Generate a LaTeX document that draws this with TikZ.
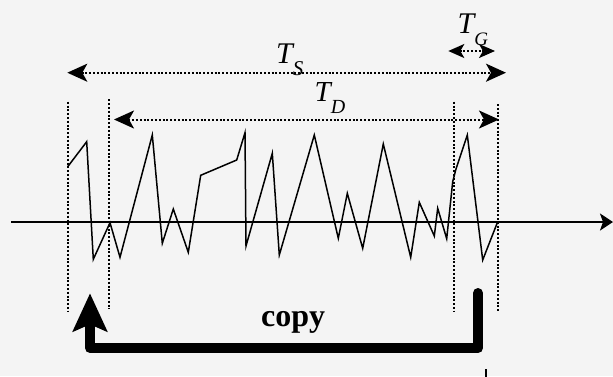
\documentclass[tikz,border=0pt]{standalone}
\usepackage{fontspec}
\setmainfont{Liberation Serif}
\usetikzlibrary{arrows.meta}
\definecolor{bg}{HTML}{F4F4F4}
\tikzset{
  dimtip/.tip={Stealth[length=20pt,width=18pt,inset=5pt]},
  smalltip/.tip={Stealth[length=16pt,width=14pt,inset=4pt]},
  wave/.style={line width=1.5pt, line join=miter},
  axisline/.style={line width=1.8pt, -{Stealth[length=13pt,width=17pt,inset=3pt]}},
  guide/.style={line width=2pt, dash pattern=on 2pt off 1.8pt},
  dimarrow/.style={guide, dimtip-dimtip},
  gaparrow/.style={guide, smalltip-smalltip},
  copyarrow/.style={line width=10pt, line join=round, line cap=round,
    -{Stealth[length=38pt,width=34pt,inset=7pt]}},
  lbl/.style={inner sep=0pt, anchor=base west},
}
\begin{document}
\begin{tikzpicture}[x=1pt,y=-1pt]
\useasboundingbox (0,0) rectangle (613,376);
\fill[bg] (0,0) rectangle (613,376);

% key coordinates
\coordinate (ax0) at (11,222);
\coordinate (ax1) at (613,222);
\coordinate (g1t) at (67.5,101.7); \coordinate (g1b) at (67.5,311.7);
\coordinate (g2t) at (109,99.3);   \coordinate (g2b) at (109,309);
\coordinate (g3t) at (454,101.7);  \coordinate (g3b) at (454,311.7);
\coordinate (g4t) at (498,104);    \coordinate (g4b) at (498,312.7);
\coordinate (tsL) at (67.3,72.7);  \coordinate (tsR) at (506,72.7);
\coordinate (tdL) at (114,119.5);  \coordinate (tdR) at (499,119.5);
\coordinate (tgL) at (448.3,51);   \coordinate (tgR) at (495,51);
\coordinate (cpA) at (478,293);    \coordinate (cpB) at (478,348);
\coordinate (cpC) at (90,348);     \coordinate (cpD) at (90,293.3);
\coordinate (tk0) at (486,369);    \coordinate (tk1) at (486,377);

% time axis
\draw[axisline] (ax0) -- (ax1);

% guide lines
\draw[guide] (g1t) -- (g1b);
\draw[guide] (g2t) -- (g2b);
\draw[guide] (g3t) -- (g3b);
\draw[guide] (g4t) -- (g4b);

% waveform
\draw[wave] (67.7,166.7) -- (86.7,141.7) -- (93.3,259.3) -- (110,222.7)
  -- (120,257.3) -- (152.3,135) -- (162.3,243.3) -- (173.3,209)
  -- (188.3,252.3) -- (200.7,175.3) -- (236.7,160) -- (245,132.7)
  -- (246,246) -- (272.3,153.3) -- (279.3,255) -- (314.3,135)
  -- (338.3,238.3) -- (347.3,193.3) -- (362.7,248.3) -- (383.3,144)
  -- (410.7,257.3) -- (419.3,202.3) -- (434.3,236) -- (437.7,208.3)
  -- (446.7,238.7) -- (452.7,181.7) -- (455.7,170) -- (467.3,135)
  -- (482.7,260) -- (497.7,221.7);

% dimension arrows
\draw[dimarrow] (tsL) -- (tsR);
\draw[dimarrow] (tdL) -- (tdR);
\draw[gaparrow] (tgL) -- (tgR);

% labels
\node[lbl] (ts) at (276,63.3) {\fontsize{30}{30}\selectfont\itshape T\raisebox{-11.7pt}{\fontsize{21}{21}\selectfont S}};
\node[lbl] (td) at (314.5,101.7) {\fontsize{29}{29}\selectfont\itshape T\raisebox{-11.6pt}{\fontsize{20}{20}\selectfont D}};
\node[lbl] (tg) at (457.5,33.3) {\fontsize{30}{30}\selectfont\itshape T\raisebox{-11.7pt}{\fontsize{19}{19}\selectfont G}};

% copy arrow
\draw[copyarrow] (cpA) -- (cpB) -- (cpC) -- (cpD);
\node[lbl] (copy) at (261,326.7) {\fontsize{32}{32}\selectfont\bfseries copy};

% small tick at the bottom
\draw[line width=1.8pt] (tk0) -- (tk1);
\end{tikzpicture}
\end{document}
